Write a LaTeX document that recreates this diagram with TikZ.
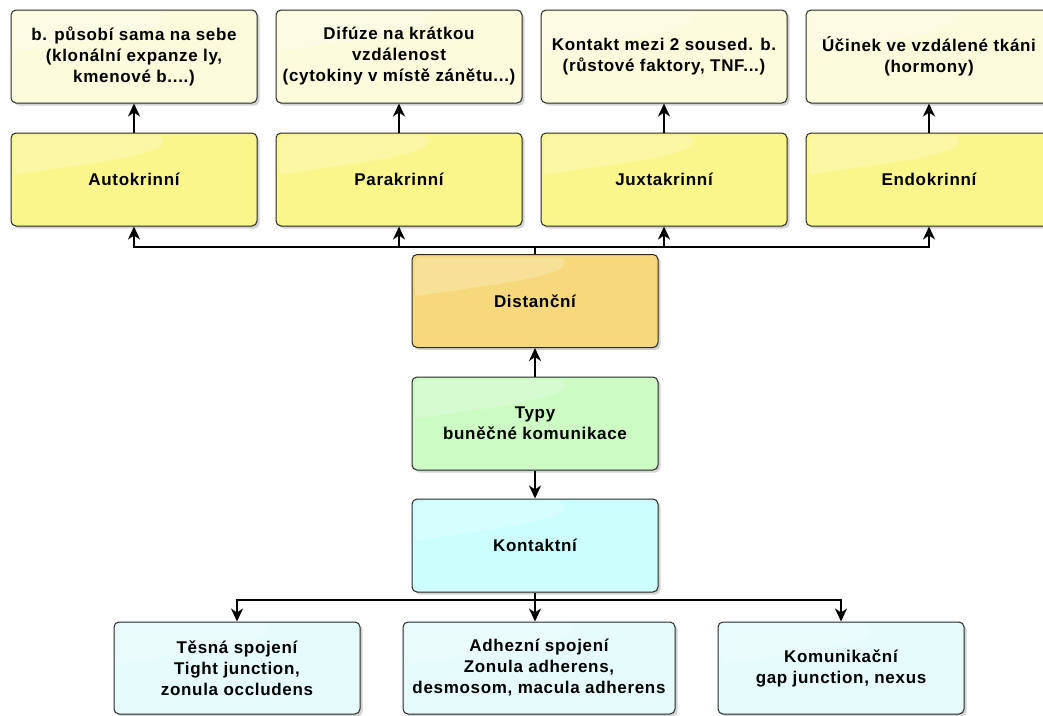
\documentclass[tikz,border=0pt]{standalone}
\usepackage{fontspec}
\setmainfont{Liberation Sans}[LetterSpace=4]
\usetikzlibrary{arrows.meta,shadows,calc}

% soft glossy highlight in the upper left part of a box
\newcommand\glossfill{%
  \fill[white,fill opacity=0.22]
    ($(path picture bounding box.north west)+(3pt,-3pt)$)
    -- ($(path picture bounding box.north west)!0.62!(path picture bounding box.north east)+(0,-3pt)$)
    .. controls ($(path picture bounding box.north west)!0.62!(path picture bounding box.north east)+(0,-24pt)$)
    and ($(path picture bounding box.north west)!0.25!(path picture bounding box.north east)+(0,-32pt)$)
    .. ($(path picture bounding box.north west)+(3pt,-42pt)$) -- cycle;}

\definecolor{notefill}{HTML}{FCFBDC}
\definecolor{kindfill}{HTML}{FAF68C}
\definecolor{distfill}{HTML}{F6D97C}
\definecolor{typefill}{HTML}{CCFBC4}
\definecolor{contfill}{HTML}{CCFEFE}
\definecolor{junctfill}{HTML}{E6FCFC}

\tikzset{
  box/.style={draw=black!85, line width=1pt, rounded corners=5pt,
    minimum width=246pt, minimum height=93pt, inner sep=0pt, align=center,
    font=\bfseries\fontsize{17}{21}\selectfont,
    drop shadow={shadow xshift=2.5pt, shadow yshift=-2.5pt, opacity=0.35},
    path picture={\glossfill}},
  note/.style={box, fill=notefill},
  kind/.style={box, fill=kindfill},
  dist/.style={box, fill=distfill},
  typ/.style={box, fill=typefill},
  cont/.style={box, fill=contfill},
  junct/.style={box, fill=junctfill, minimum height=92pt},
  conn/.style={line width=2.2pt, -{Stealth[length=13pt,width=12pt,inset=4pt]}},
  link/.style={line width=2.2pt}
}

\begin{document}
\begin{tikzpicture}[x=1pt,y=-1pt]
\useasboundingbox (0,0) rectangle (1043,715);

% top row: descriptions
\node[note] (n1) at (134,56.5) {b. působí sama na sebe\\(klonální expanze ly,\\kmenové b....)};
\node[note] (n2) at (399,56.5) {Difúze na krátkou\\vzdálenost\\(cytokiny v místě zánětu...)};
\node[note] (n3) at (664,56.5) {Kontakt mezi 2 soused. b.\\(růstové faktory, TNF...)};
\node[note] (n4) at (929,56.5) {Účinek ve vzdálené tkáni\\(hormony)};

% second row: kinds of distant signalling
\node[kind] (auto) at (134,179.5) {Autokrinní};
\node[kind] (para) at (399,179.5) {Parakrinní};
\node[kind] (juxta) at (664,179.5) {Juxtakrinní};
\node[kind] (endo) at (929,179.5) {Endokrinní};

% central column
\node[dist] (dist) at (535,301) {Distanční};
\node[typ] (typy) at (535,423.5) {Typy\\buněčné komunikace};
\node[cont] (kont) at (535,545.5) {Kontaktní};

% bottom row: junctions
\node[junct] (tesna) at (237,668) {Těsná spojení\\Tight junction,\\zonula occludens};
\node[junct, minimum width=272pt] (adh) at (539,668) {Adhezní spojení\\Zonula adherens,\\desmosom, macula adherens};
\node[junct] (kom) at (841,668) {Komunikační\\gap junction, nexus};

% connectors
\coordinate (tbus) at (535,247);
\coordinate (bbus) at (535,600);

\draw[conn] (auto.north) -- (n1.south);
\draw[conn] (para.north) -- (n2.south);
\draw[conn] (juxta.north) -- (n3.south);
\draw[conn] (endo.north) -- (n4.south);

\draw[link] (dist.north) -- (tbus);
\draw[conn] (tbus) -| (auto.south);
\draw[conn] (tbus) -| (para.south);
\draw[conn] (tbus) -| (juxta.south);
\draw[conn] (tbus) -| (endo.south);

\draw[conn] (typy.north) -- (dist.south);
\draw[conn] (typy.south) -- (kont.north);

\draw[link] (kont.south) -- (bbus);
\draw[conn] (bbus) -| (tesna.north);
\draw[conn] (bbus) -- (bbus |- adh.north);
\draw[conn] (bbus) -| (kom.north);
\end{tikzpicture}
\end{document}
